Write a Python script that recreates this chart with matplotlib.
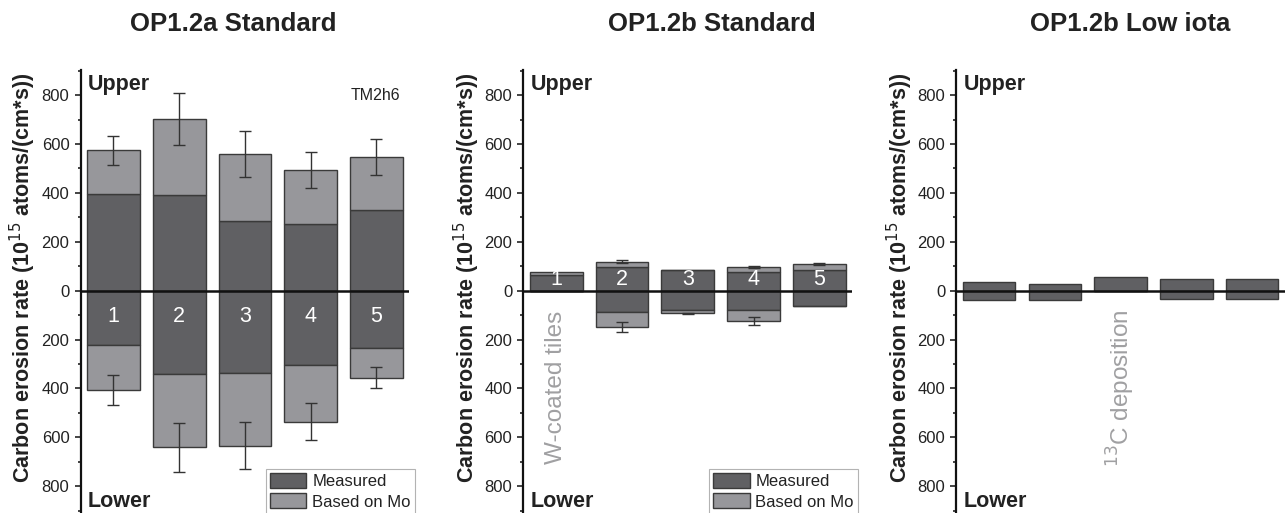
import matplotlib
matplotlib.use("Agg")
import matplotlib.pyplot as plt
from matplotlib.ticker import MultipleLocator, FuncFormatter
from matplotlib.patches import Patch
import numpy as np

# ---------------- data ----------------
positions = [1, 2, 3, 4, 5]
bar_labels = ["1", "2", "3", "4", "5"]
titles = ["OP1.2a Standard", "OP1.2b Standard", "OP1.2b Low iota"]

# OP1.2a Standard
a_up_meas = [395, 390, 284, 272, 329]
a_up_total = [574, 703, 561, 493, 548]
a_up_err = [60, 105, 94, 74, 74]
a_lo_meas = [222, 342, 338, 305, 234]
a_lo_total = [408, 641, 634, 536, 356]
a_lo_err = [62, 101, 97, 77, 42]

# OP1.2b Standard
b_up_meas = [63, 96, 83, 76, 86]
b_up_total = [75, 119, 86, 96, 108]
b_up_err = [0, 7, 0, 4, 5]
b_lo_meas = [0, 87, 79, 80, 63]
b_lo_total = [0, 150, 93, 125, 63]
b_lo_err = [0, 21, 3, 16, 0]

# OP1.2b Low iota (measured only)
c_up_meas = [34, 26, 56, 48, 49]
c_lo_meas = [37, 37, 0, 34, 34]

ylabel = "Carbon erosion rate (10$^{15}$ atoms/(cm*s))"

# ---------------- style ----------------
W, H = 1285, 513
DARK = "#606063"
LIGHT = "#97979b"
EDGE = "#3a3a3a"
ERR = "#333333"
plt.rcParams['font.family'] = ['Liberation Sans', 'DejaVu Sans']

fig = plt.figure(figsize=(W / 100, H / 100), dpi=100)

ax_lefts = [80.6, 523.4, 956.3]
ax_w = 328.75
ax_top, ax_bot = 70, 513
axes = []
for l in ax_lefts:
    ax = fig.add_axes([l / W, 1 - ax_bot / H, ax_w / W, (ax_bot - ax_top) / H])
    axes.append(ax)

bw = 0.8


def style_axis(ax):
    ax.set_xlim(0.5, 5.5)
    ax.set_ylim(-910, 903)
    for s in ["top", "right", "bottom"]:
        ax.spines[s].set_visible(False)
    ax.spines["left"].set_linewidth(1.6)
    ax.spines["left"].set_color("#111111")
    ax.set_xticks([])
    ax.yaxis.set_major_locator(MultipleLocator(200))
    ax.yaxis.set_minor_locator(MultipleLocator(100))
    ax.yaxis.set_major_formatter(FuncFormatter(lambda v, p: f"{abs(v):g}"))
    ax.tick_params(axis="y", which="major", length=4.5, width=1.1, labelsize=12,
                   color="#111111", labelcolor="#222222", pad=3.5)
    ax.tick_params(axis="y", which="minor", length=2.3, width=1.1, color="#111111")
    ax.axhline(0, color="#111111", lw=1.8, zorder=5)
    ax.text(0.022, 842, "Upper", transform=ax.get_yaxis_transform(),
            fontsize=15.5, fontweight="bold", color="#222222", va="center", ha="left")
    ax.text(0.022, -864, "Lower", transform=ax.get_yaxis_transform(),
            fontsize=15.5, fontweight="bold", color="#222222", va="center", ha="left")


def stacked(ax, up_m, up_t, up_e, lo_m, lo_t, lo_e):
    up_m = np.array(up_m); up_t = np.array(up_t)
    lo_m = np.array(lo_m); lo_t = np.array(lo_t)
    ax.bar(positions, up_m, bw, color=DARK, edgecolor=EDGE, lw=1, zorder=2)
    ax.bar(positions, up_t - up_m, bw, bottom=up_m, color=LIGHT, edgecolor=EDGE, lw=1, zorder=2)
    ax.bar(positions, -lo_m, bw, color=DARK, edgecolor=EDGE, lw=1, zorder=2)
    ax.bar(positions, -(lo_t - lo_m), bw, bottom=-lo_m, color=LIGHT, edgecolor=EDGE, lw=1, zorder=2)
    for x, t, e in zip(positions, up_t, up_e):
        if e > 0:
            ax.errorbar(x, t, yerr=e, color=ERR, lw=1, capsize=4, capthick=1, zorder=3)
    for x, t, e in zip(positions, lo_t, lo_e):
        if e > 0:
            ax.errorbar(x, -t, yerr=e, color=ERR, lw=1, capsize=4, capthick=1, zorder=3)


for ax in axes:
    style_axis(ax)

# Panel 1
ax = axes[0]
stacked(ax, a_up_meas, a_up_total, a_up_err, a_lo_meas, a_lo_total, a_lo_err)
for x, lab in zip(positions, bar_labels):
    ax.text(x, -106, lab, color="white", fontsize=15.5, ha="center", va="center", zorder=6)
ax.text(4.99, 800, "TM2h6", fontsize=11.5, color="#222222", ha="center", va="center")

# Panel 2
ax = axes[1]
stacked(ax, b_up_meas, b_up_total, b_up_err, b_lo_meas, b_lo_total, b_lo_err)
for x, lab in zip(positions, bar_labels):
    ax.text(x, 44, lab, color="white", fontsize=15.5, ha="center", va="center", zorder=6)
ax.text(1, -396, "W-coated tiles", rotation=90, fontsize=17.5, color="#a0a0a2",
        ha="center", va="center")

# Panel 3
ax = axes[2]
ax.bar(positions, c_up_meas, bw, color=DARK, edgecolor=EDGE, lw=1, zorder=2)
ax.bar(positions, -np.array(c_lo_meas), bw, color=DARK, edgecolor=EDGE, lw=1, zorder=2)
ax.text(3, -400, "$^{13}$C deposition", rotation=90, fontsize=17.5, color="#a0a0a2",
        ha="center", va="center")

# Legends
handles = [Patch(facecolor=DARK, edgecolor=EDGE, label="Measured"),
           Patch(facecolor=LIGHT, edgecolor=EDGE, label="Based on Mo")]
for ax, rx in [(axes[0], 415), (axes[1], 858)]:
    left = ax_lefts[axes.index(ax)]
    leg = ax.legend(handles=handles, loc="upper right",
                    bbox_to_anchor=((rx - left) / ax_w, (ax_bot - 469) / (ax_bot - ax_top)),
                    borderaxespad=0, fontsize=12, frameon=True, fancybox=False,
                    handlelength=2.2, handleheight=1.0, handletextpad=0.35,
                    labelspacing=0.25, borderpad=0.25)
    leg.get_frame().set_edgecolor("#a0a0a0")
    leg.get_frame().set_linewidth(0.8)
    for t in leg.get_texts():
        t.set_color("#222222")

# Y labels
for cx in [23, 467, 900]:
    fig.text(cx / W, 1 - 277.5 / H, ylabel, rotation=90, fontsize=15.5, fontweight="bold",
             color="#222222", ha="center", va="center")

# Titles
for cx, t in zip([233, 712, 1130], titles):
    fig.text(cx / W, 1 - 24 / H, t, fontsize=18.5, fontweight="bold", color="#222222",
             ha="center", va="center")

fig.savefig("out.png", dpi=100)
